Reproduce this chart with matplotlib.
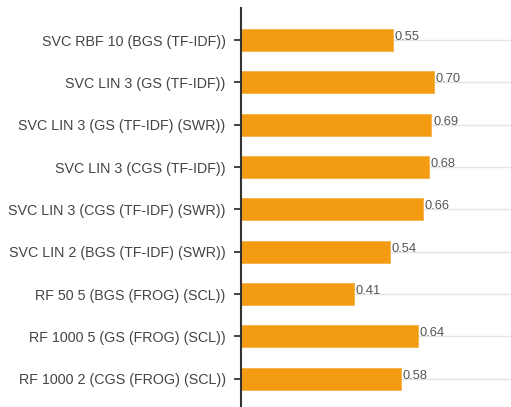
import matplotlib
matplotlib.use("Agg")
import matplotlib.pyplot as plt

# Data
models = [
    "SVC RBF 10 (BGS (TF-IDF))",
    "SVC LIN 3 (GS (TF-IDF))",
    "SVC LIN 3 (GS (TF-IDF) (SWR))",
    "SVC LIN 3 (CGS (TF-IDF))",
    "SVC LIN 3 (CGS (TF-IDF) (SWR))",
    "SVC LIN 2 (BGS (TF-IDF) (SWR))",
    "RF 50 5 (BGS (FROG) (SCL))",
    "RF 1000 5 (GS (FROG) (SCL))",
    "RF 1000 2 (CGS (FROG) (SCL))",
]
scores = [0.55, 0.70, 0.69, 0.68, 0.66, 0.54, 0.41, 0.64, 0.58]

plt.rcParams['font.family'] = ['Liberation Sans', 'DejaVu Sans']

fig = plt.figure(figsize=(5.11, 4.07), dpi=100)
ax = fig.add_axes([241 / 511, 0, 270 / 511, 399 / 407])

ypos = list(range(len(models)))
for y in ypos:
    ax.axhline(y, color='#e4e4e4', lw=1, zorder=0)
ax.barh(ypos, scores, height=0.52, color='#f39c12', edgecolor='#f7b04a', lw=0.6, zorder=2)

for y, v in zip(ypos, scores):
    ax.text(v + 0.006, y, f"{v:.2f}", color='#555555', fontsize=9.3,
            va='baseline', ha='left', zorder=3)

ax.set_xlim(0, 0.978)
ax.set_ylim(8.67, -0.76)
ax.set_yticks(ypos)
ax.set_yticklabels(models, color='#444444', fontsize=10.3)
ax.set_xticks([])
ax.tick_params(axis='y', direction='inout', length=10, width=1.2, color='#222222', pad=6)

for side in ['top', 'right', 'bottom']:
    ax.spines[side].set_visible(False)
ax.spines['left'].set_color('#333333')
ax.spines['left'].set_linewidth(1.5)

fig.savefig("out.png", dpi=100)
